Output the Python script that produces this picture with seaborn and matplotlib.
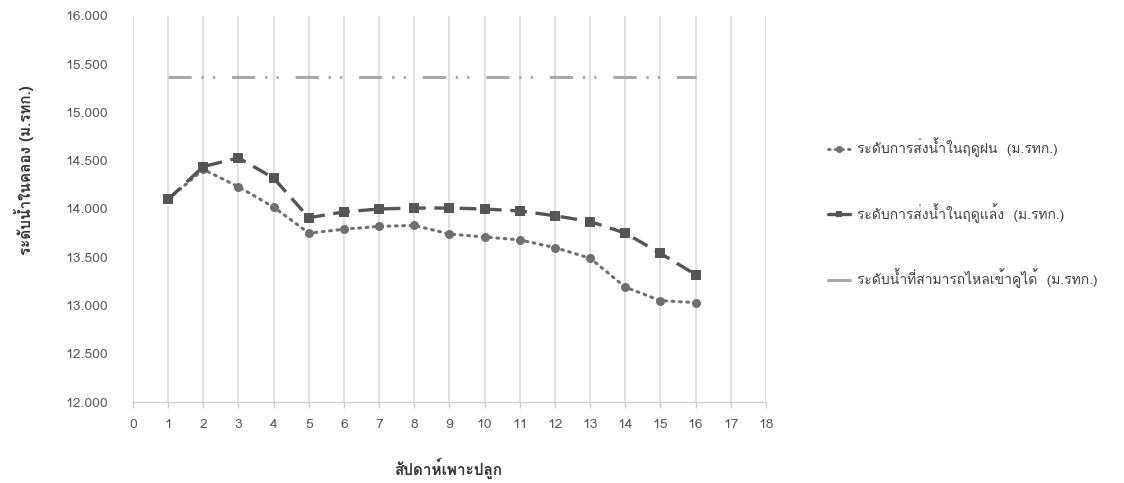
import matplotlib
matplotlib.use("Agg")
import matplotlib.pyplot as plt
import seaborn as sns
import pandas as pd
from matplotlib import font_manager
from matplotlib.lines import Line2D

# ---------------- data ----------------
weeks = list(range(1, 17))
rain_level = [14.10, 14.41, 14.23, 14.02, 13.75, 13.79, 13.82, 13.83,
              13.74, 13.71, 13.68, 13.60, 13.49, 13.19, 13.05, 13.03]
dry_level = [14.10, 14.44, 14.53, 14.32, 13.91, 13.97, 14.00, 14.01,
             14.01, 14.00, 13.98, 13.93, 13.87, 13.75, 13.54, 13.32]
inflow_level = [15.37] * 16

label_rain = "ระดับการส่งน้ำในฤดูฝน  (ม.รทก.)"
label_dry = "ระดับการส่งน้ำในฤดูแล้ง  (ม.รทก.)"
label_inflow = "ระดับน้ำที่สามารถไหลเข้าคูได้  (ม.รทก.)"
xlabel = "สัปดาห์เพาะปลูก"
ylabel = "ระดับน้ำในคลอง (ม.รทก.)"
x_ticks = list(range(0, 19))
y_ticks = [12.0, 12.5, 13.0, 13.5, 14.0, 14.5, 15.0, 15.5, 16.0]


# ---------------- fonts ----------------
def find_thai_family():
    try:
        from fontTools.ttLib import TTFont
    except Exception:
        return None
    for f in font_manager.fontManager.ttflist:
        try:
            tt = TTFont(f.fname, fontNumber=0, lazy=True)
            cmap = tt.getBestCmap()
            if cmap and 0x0E23 in cmap and 0x0E14 in cmap:
                return f.name
        except Exception:
            continue
    return None


sns.set_theme(style="white")
thai = find_thai_family()
fams = ([thai] if thai else []) + ["DejaVu Sans"]
plt.rcParams["font.family"] = fams

df = pd.DataFrame({"week": weeks, "rain": rain_level, "dry": dry_level,
                   "inflow": inflow_level})

fig = plt.figure(figsize=(11.24, 4.83), dpi=100)
ax = fig.add_axes([0.1183, 0.1677, 0.5632, 0.7992])

c_rain = "#6f6f6f"
c_dry = "#555555"
c_ref = "#a9a9a9"

sns.lineplot(data=df, x="week", y="inflow", ax=ax, color=c_ref, lw=2.2,
             label=label_inflow)
sns.lineplot(data=df, x="week", y="rain", ax=ax, color=c_rain, lw=2.2,
             marker="o", markersize=6.5, markeredgewidth=0, label=label_rain)
sns.lineplot(data=df, x="week", y="dry", ax=ax, color=c_dry, lw=2.4,
             marker="s", markersize=6.5, markeredgewidth=0, label=label_dry)

lines = ax.get_lines()
lines[0].set_linestyle((0, (7.6, 3.2, 0.75, 3.0, 0.75, 5.5)))
lines[1].set_linestyle((0, (0.6, 1.8)))
lines[1].set_dash_capstyle("round")
lines[2].set_linestyle((0, (5.0, 2.6)))

if ax.get_legend():
    ax.get_legend().remove()

ax.set_xlim(0, 18)
ax.set_ylim(12, 16)
ax.set_xticks(x_ticks)
ax.set_yticks(y_ticks)
ax.set_yticklabels([f"{v:.3f}" for v in y_ticks])
ax.set_xticklabels([str(v) for v in x_ticks])

ax.grid(False)
for xv in x_ticks:
    ax.axvline(xv, color="#dcdcdc", lw=1.2, zorder=0)

for s in ["top", "right", "left"]:
    ax.spines[s].set_visible(False)
ax.spines["bottom"].set_color("#d0d0d0")
ax.spines["bottom"].set_linewidth(1.0)

ax.tick_params(axis="x", which="both", bottom=True, length=4, width=1.0,
               color="#d0d0d0", labelsize=10, labelcolor="#595959", pad=8)
ax.tick_params(axis="y", which="both", left=False, labelsize=10,
               labelcolor="#595959", pad=12)

ax.set_xlabel("")
ax.set_ylabel("")
fig.text(448 / 1124, 1 - 468 / 483, xlabel, ha="center", va="center",
         fontsize=11, fontweight="bold", color="#333333")
fig.text(24 / 1124, 1 - 170 / 483, ylabel, ha="center", va="center",
         rotation=90, fontsize=11, fontweight="bold", color="#333333")

handles = [
    Line2D([], [], color=c_rain, lw=2.0, linestyle=(0, (0.6, 1.8)),
           dash_capstyle="round", marker="o", markersize=5,
           markeredgewidth=0),
    Line2D([], [], color=c_dry, lw=2.4, linestyle="-", marker="s",
           markersize=5, markeredgewidth=0),
    Line2D([], [], color=c_ref, lw=2.2, linestyle="-"),
]
fig.legend(handles, [label_rain, label_dry, label_inflow],
           loc="upper left", bbox_to_anchor=(815 / 1124, 1 - 125 / 483),
           frameon=False, fontsize=10, handlelength=1.6, handletextpad=0.5,
           labelspacing=3.3, labelcolor="#404040")

fig.savefig("out.png", dpi=100)
